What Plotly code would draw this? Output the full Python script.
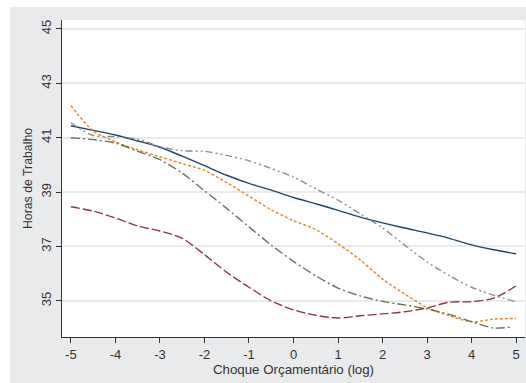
import plotly.graph_objects as go

x_vals = [-5, -4.5, -4, -3.5, -3, -2.5, -2, -1.5, -1, -0.5, 0, 0.5, 1, 1.5, 2, 2.5, 3, 3.5, 4, 4.5, 5]

navy = [41.44, 41.27, 41.1, 40.88, 40.65, 40.32, 39.97, 39.62, 39.32, 39.07, 38.8, 38.57, 38.33, 38.08, 37.87, 37.68, 37.5, 37.3, 37.06, 36.88, 36.73]
maroon = [38.46, 38.3, 38.05, 37.75, 37.57, 37.3, 36.7, 36.05, 35.5, 35.0, 34.67, 34.47, 34.37, 34.45, 34.52, 34.6, 34.74, 34.95, 34.97, 35.1, 35.55]
orange = [42.18, 41.25, 40.85, 40.55, 40.3, 40.05, 39.8, 39.35, 38.85, 38.35, 37.95, 37.62, 37.1, 36.5, 35.8, 35.25, 34.75, 34.45, 34.23, 34.33, 34.35]
olive_x = [-5, -4.5, -4, -3.5, -3, -2.5, -2, -1.5, -1, -0.5, 0, 0.5, 1, 1.5, 2, 2.5, 3, 3.5, 4, 4.5, 4.9]
olive = [41.0, 40.93, 40.8, 40.5, 40.19, 39.7, 39.05, 38.4, 37.72, 37.05, 36.45, 35.92, 35.47, 35.18, 34.98, 34.85, 34.7, 34.5, 34.23, 34.0, 34.04]
gray = [41.55, 41.08, 41.04, 40.95, 40.67, 40.52, 40.5, 40.35, 40.15, 39.87, 39.55, 39.12, 38.7, 38.2, 37.68, 37.05, 36.43, 35.93, 35.5, 35.2, 34.96]

x_ticks = [-5, -4, -3, -2, -1, 0, 1, 2, 3, 4, 5]
y_ticks = [35, 37, 39, 41, 43, 45]

fig = go.Figure()

series = [
    (x_vals, navy, "#1a476f", "solid"),
    (x_vals, maroon, "#90353b", "9px,3px"),
    (x_vals, orange, "#e8851f", "3px,2px"),
    (olive_x, olive, "#6b7152", "9px,3px,2px,3px"),
    (x_vals, gray, "#8a8f8c", "7px,3px,2px,3px,2px,3px"),
]
for xs, ys, col, dash in series:
    fig.add_trace(go.Scatter(x=xs, y=ys, mode="lines",
                             line=dict(color=col, width=1.4, dash=dash, shape="spline", smoothing=0.8),
                             showlegend=False, hoverinfo="skip"))

fig.update_layout(
    width=526, height=383,
    margin=dict(l=62, r=1, t=20, b=46),
    paper_bgcolor="#e9eaeb",
    plot_bgcolor="white",
    font=dict(family="Liberation Sans, Arial, sans-serif", size=12, color="#333333"),
    shapes=[
        dict(type="rect", xref="paper", yref="paper", x0=-0.2, x1=1.1, y0=1.0 + 13/317, y1=1.2,
             fillcolor="white", line=dict(width=0), layer="below"),
        dict(type="rect", xref="paper", yref="paper", x0=-62/463, x1=-52/463, y0=-0.2, y1=1.2,
             fillcolor="white", line=dict(width=0), layer="below"),
    ],
)

fig.update_xaxes(
    range=[-5.2, 5.2], tickvals=x_ticks, ticktext=[str(v) for v in x_ticks],
    showgrid=False, zeroline=False, showline=True, linecolor="#333333", linewidth=1,
    ticks="outside", ticklen=5, tickcolor="#333333",
    title=dict(text="Choque Orçamentário (log)", standoff=1, font=dict(size=13.3)),
    tickfont=dict(size=13),
)
fig.update_yaxes(
    range=[33.67, 45.33], tickvals=y_ticks, ticktext=[str(v) for v in y_ticks],
    showgrid=True, gridcolor="#eaeaea", gridwidth=1.5, zeroline=False,
    showline=True, linecolor="#333333", linewidth=1,
    ticks="outside", ticklen=5, tickcolor="#333333", tickangle=-90,
    title=dict(text="Horas de Trabalho", standoff=3, font=dict(size=12.3)),
    tickfont=dict(size=13),
)

fig.write_html("out.html", config={"displayModeBar": False},
               post_script="document.body.style.margin='0';")
